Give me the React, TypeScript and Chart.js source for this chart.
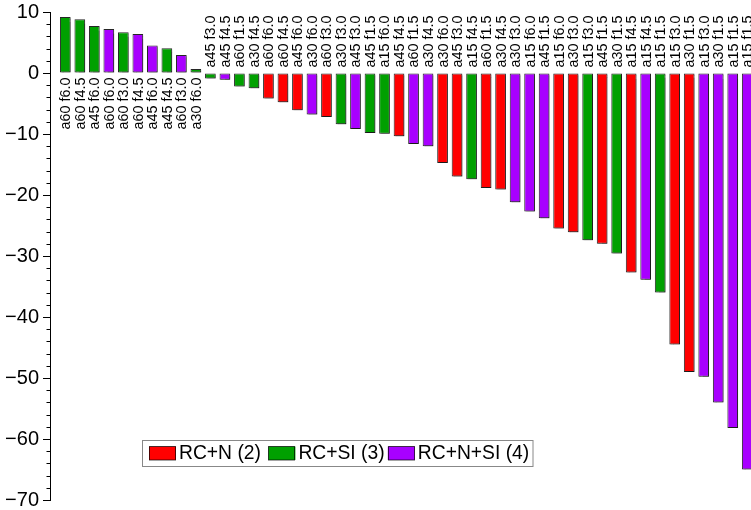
import React, { useEffect, useRef } from "react";
import { Chart, registerables } from "chart.js";

Chart.register(...registerables);

const categories = [
  "a60 f6.0", "a60 f4.5", "a45 f6.0", "a60 f6.0", "a60 f3.0", "a60 f4.5", "a45 f6.0", "a45 f4.5",
  "a60 f3.0", "a30 f6.0", "a45 f3.0", "a45 f4.5", "a60 f1.5", "a30 f4.5", "a60 f6.0", "a60 f4.5",
  "a45 f6.0", "a30 f6.0", "a60 f3.0", "a30 f3.0", "a45 f3.0", "a45 f1.5", "a15 f6.0", "a45 f4.5",
  "a60 f1.5", "a30 f4.5", "a30 f6.0", "a45 f3.0", "a15 f4.5", "a60 f1.5", "a30 f4.5", "a30 f3.0",
  "a15 f6.0", "a45 f1.5", "a15 f6.0", "a30 f3.0", "a15 f3.0", "a45 f1.5", "a30 f1.5", "a15 f4.5",
  "a15 f4.5", "a15 f1.5", "a15 f3.0", "a30 f1.5", "a15 f3.0", "a30 f1.5", "a15 f1.5", "a15 f1.5",
];

const values = [
  9.2, 8.8, 7.7, 7.2, 6.7, 6.4, 4.5, 4.05,
  2.95, 0.65, -0.9, -1.1, -2.2, -2.5, -4.2, -4.8,
  -6.1, -6.8, -7.2, -8.4, -9.2, -9.85, -9.95, -10.35,
  -11.65, -12.0, -14.75, -16.95, -17.4, -18.85, -19.1, -21.2,
  -22.7, -23.8, -25.5, -26.1, -27.4, -28.0, -29.6, -32.7,
  -33.9, -36.0, -44.5, -49.0, -49.8, -54.0, -58.2, -65.0,
];

// 0 = RC+N (2), 1 = RC+SI (3), 2 = RC+N+SI (4)
const seriesOfBar = [
  1, 1, 1, 2, 1, 2, 2, 1,
  2, 1, 1, 2, 1, 1, 0, 0,
  0, 2, 0, 1, 2, 1, 1, 0,
  2, 2, 0, 0, 1, 0, 0, 2,
  2, 2, 0, 0, 1, 0, 1, 0,
  2, 1, 0, 0, 2, 2, 2, 2,
];

const seriesNames = ["RC+N (2)", "RC+SI (3)", "RC+N+SI (4)"];
const yTicks = [-70, -60, -50, -40, -30, -20, -10, 0, 10];

const seriesColors = ["#ff0000", "#00a000", "#a800ff"];
const FONT = "'Liberation Sans', Arial, Helvetica, sans-serif";

export default function App() {
  const canvasRef = useRef<HTMLCanvasElement | null>(null);

  useEffect(() => {
    const canvas = canvasRef.current;
    if (!canvas) return;

    const datasets = seriesNames.map((name, s) => ({
      label: name,
      data: values
        .map((v, i) => ({ x: i, y: v, s: seriesOfBar[i] }))
        .filter((p) => p.s === s)
        .map((p) => ({ x: p.x, y: p.y })),
      backgroundColor: seriesColors[s],
      borderColor: "rgba(0,0,0,0.85)",
      borderWidth: 1,
      borderSkipped: false as const,
      grouped: false,
      barPercentage: 0.737,
      categoryPercentage: 1,
    }));

    const shadowPlugin = {
      id: "barShadow",
      beforeDatasetsDraw(chart: any) {
        const ctx = chart.ctx;
        ctx.save();
        ctx.shadowColor = "rgba(0,0,0,0.35)";
        ctx.shadowOffsetX = 1.5;
        ctx.shadowOffsetY = 1.5;
        ctx.shadowBlur = 1;
      },
      afterDatasetsDraw(chart: any) {
        chart.ctx.restore();
      },
    };

    const decoPlugin = {
      id: "deco",
      afterDraw(chart: any) {
        const ctx = chart.ctx;
        const xs = chart.scales.x;
        const ys = chart.scales.y;
        const y0 = ys.getPixelForValue(0);

        // minor ticks
        ctx.save();
        ctx.strokeStyle = "#000";
        ctx.lineWidth = 1;
        const axX = chart.chartArea.left;
        for (let v = -70; v <= 10; v += 2) {
          if (v % 10 === 0) continue;
          const py = Math.round(ys.getPixelForValue(v)) + 0.5;
          ctx.beginPath();
          ctx.moveTo(axX - 3.5, py);
          ctx.lineTo(axX, py);
          ctx.stroke();
        }
        ctx.restore();

        // category labels next to zero line
        ctx.save();
        ctx.fillStyle = "#000";
        ctx.font = `14.4px ${FONT}`;
        ctx.textBaseline = "middle";
        categories.forEach((c, i) => {
          const px = xs.getPixelForValue(i) + 1;
          const pos = values[i] >= 0;
          ctx.save();
          ctx.translate(px, pos ? y0 + 4.4 : y0 - 5.5);
          ctx.rotate(-Math.PI / 2);
          ctx.textAlign = pos ? "right" : "left";
          ctx.fillText(c, 0, 0);
          ctx.restore();
        });
        ctx.restore();

        // legend box
        ctx.save();
        const boxL = 142.5, boxT = 440.5, boxW = 390.5, boxH = 26;
        ctx.fillStyle = "#fff";
        ctx.fillRect(boxL, boxT, boxW, boxH);
        ctx.strokeStyle = "#888";
        ctx.lineWidth = 1;
        ctx.strokeRect(boxL, boxT, boxW, boxH);
        ctx.font = `19.3px ${FONT}`;
        ctx.textBaseline = "middle";
        ctx.textAlign = "left";
        seriesNames.forEach((name, s) => {
          const sx = 149 + s * 119.4;
          ctx.fillStyle = seriesColors[s];
          ctx.fillRect(sx, 446.5, 27, 13.5);
          ctx.strokeStyle = "rgba(0,0,0,0.7)";
          ctx.strokeRect(Math.round(sx) + 0.5, 446.5, 26, 13.5);
          ctx.fillStyle = "#000";
          ctx.fillText(name, sx + 30, 454);
        });
        ctx.restore();
      },
    };

    const chart = new Chart(canvas, {
      type: "bar",
      data: { datasets: datasets as any },
      options: {
        animation: false,
        responsive: false,
        layout: { padding: { left: 0, right: 0, top: 12, bottom: 20 } },
        plugins: {
          legend: { display: false },
          tooltip: { enabled: false },
        },
        scales: {
          x: {
            type: "linear",
            display: false,
            min: -1.054,
            max: 47.88,
            offset: false,
          },
          y: {
            type: "linear",
            min: -70,
            max: 10,
            afterFit: (scale: any) => {
              scale.width = 50;
              scale.paddingTop = 0;
              scale.paddingBottom = 0;
            },
            afterBuildTicks: (scale: any) => {
              scale.ticks = yTicks.map((v) => ({ value: v }));
            },
            border: { display: true, color: "#000", width: 1 },
            grid: {
              display: true,
              drawOnChartArea: false,
              drawTicks: true,
              tickLength: 7,
              tickColor: "#000",
              color: "#000",
            },
            ticks: {
              padding: 4,
              color: "#000",
              font: { size: 20, family: FONT },
              callback: (v: any) => String(v).replace("-", "\u2212"),
            },
          },
        },
      },
      plugins: [shadowPlugin, decoPlugin],
    });

    return () => chart.destroy();
  }, []);

  return (
    <div
      style={{
        position: "fixed",
        left: 0,
        top: 0,
        width: 751,
        height: 510,
        overflow: "hidden",
        background: "#fff",
      }}
    >
      <canvas ref={canvasRef} width={760} height={520} style={{ display: "block" }} />
    </div>
  );
}
